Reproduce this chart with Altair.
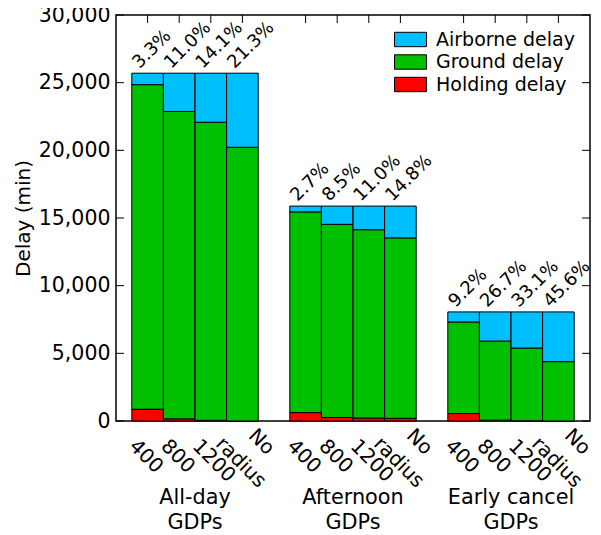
import altair as alt
import pandas as pd

# ---- data ----
groups = ["All-day\nGDPs", "Afternoon\nGDPs", "Early cancel\nGDPs"]
radii = ["400", "800", "1200", "No\nradius"]
series = ["Airborne delay", "Ground delay", "Holding delay"]
colors = ["#00BFFF", "#00C000", "#FF0000"]

holding = [870, 160, 50, 0,
           620, 260, 220, 200,
           550, 60, 20, 0]
ground = [23982, 22713, 22026, 20226,
          14831, 14270, 13913, 13330,
          6768, 5848, 5372, 4385]
airborne = [848, 2827, 3624, 5474,
            429, 1350, 1747, 2350,
            742, 2152, 2668, 3675]
pct_labels = ["3.3%", "11.0%", "14.1%", "21.3%",
              "2.7%", "8.5%", "11.0%", "14.8%",
              "9.2%", "26.7%", "33.1%", "45.6%"]
y_ticks = [0, 5000, 10000, 15000, 20000, 25000, 30000]

W, H = 474, 406
FONT = "DejaVu Sans"
R = 0.7071


def rot(sx, sy, angle_cw):
    """screen offset -> text-frame dx, dy for a text rotated by angle_cw (45 or -45)"""
    if angle_cw > 0:
        return R * (sx + sy), R * (-sx + sy)
    return R * (sx - sy), R * (sx + sy)


# ---- tables built from the arrays ----
seg_rows, bar_rows = [], []
for gi in range(len(groups)):
    for ri in range(len(radii)):
        k = gi * len(radii) + ri
        pos = gi * (len(radii) + 1) + ri
        h, g, a = holding[k], ground[k], airborne[k]
        for name, lo, hi in [("Holding delay", 0, h),
                             ("Ground delay", h, h + g),
                             ("Airborne delay", h + g, h + g + a)]:
            seg_rows.append({"series": name, "x0": pos - 0.5, "x1": pos + 0.5,
                             "y0": lo, "y1": hi})
        bar_rows.append({"pos": pos, "total": h + g + a, "pct": pct_labels[k],
                         "radius": radii[ri]})
seg = pd.DataFrame(seg_rows)
bars_df = pd.DataFrame(bar_rows)
grp_df = pd.DataFrame({"pos": [gi * (len(radii) + 1) + (len(radii) - 1) / 2
                               for gi in range(len(groups))],
                       "label": groups})
ytick_df = pd.DataFrame({"v": y_ticks})

xscale = alt.Scale(domain=[-1, 14], nice=False, zero=False)
yscale = alt.Scale(domain=[0, 30000], nice=False)

legend = alt.Legend(
    orient="none", legendX=285, legendY=15, title=None,
    symbolType="M-2,-0.9L2,-0.9L2,0.9L-2,0.9Z", symbolSize=256,
    symbolStrokeColor="black", symbolStrokeWidth=1, symbolOpacity=1,
    labelFont=FONT, labelFontSize=19, labelColor="black", labelOffset=16,
    rowPadding=2.5, padding=0,
)

bars = alt.Chart(seg).mark_bar(stroke="black", strokeWidth=1, opacity=1).encode(
    x=alt.X("x0:Q", scale=xscale, axis=None),
    x2="x1:Q",
    y=alt.Y("y0:Q", scale=yscale,
            axis=alt.Axis(values=y_ticks, format=",.0f", ticks=False, domain=False,
                          grid=False, labelFont=FONT, labelFontSize=20.5,
                          labelColor="black", labelPadding=6,
                          title="Delay (min)", titleFont=FONT, titleFontSize=20,
                          titleFontWeight="normal", titleColor="black",
                          titlePadding=5)),
    y2="y1:Q",
    color=alt.Color("series:N", scale=alt.Scale(domain=series, range=colors),
                    legend=legend),
)

pdx, pdy = rot(-8, -4, -45)
pct = alt.Chart(bars_df).mark_text(
    angle=315, align="left", baseline="alphabetic", font=FONT, fontSize=18,
    color="black", dx=pdx, dy=pdy,
).encode(x=alt.X("pos:Q", scale=xscale), y=alt.Y("total:Q", scale=yscale),
         text="pct:N")

sdx, sdy = rot(-8, 0, 45)
single = alt.Chart(bars_df[~bars_df["radius"].str.contains("\n")]).mark_text(
    angle=45, align="left", baseline="top", font=FONT, fontSize=20,
    color="black", dx=sdx, dy=sdy,
).encode(x=alt.X("pos:Q", scale=xscale), y=alt.value(H + 15), text="radius:N")

mdx, mdy = rot(26, 1, 45)
multi = alt.Chart(bars_df[bars_df["radius"].str.contains("\n")]).mark_text(
    angle=45, align="center", baseline="top", font=FONT, fontSize=20,
    color="black", dx=mdx, dy=mdy, lineBreak="\n", lineHeight=29,
).encode(x=alt.X("pos:Q", scale=xscale), y=alt.value(H + 13), text="radius:N")

glab = alt.Chart(grp_df).mark_text(
    align="center", baseline="top", font=FONT, fontSize=20.8, color="black",
    lineBreak="\n", lineHeight=25,
).encode(x=alt.X("pos:Q", scale=xscale), y=alt.value(H + 67), text="label:N")

tick_l = alt.Chart(ytick_df).mark_rule(color="black", strokeWidth=1).encode(
    y=alt.Y("v:Q", scale=yscale), x=alt.value(0), x2=alt.value(8))
tick_r = alt.Chart(ytick_df).mark_rule(color="black", strokeWidth=1).encode(
    y=alt.Y("v:Q", scale=yscale), x=alt.value(W - 8), x2=alt.value(W))
tick_t = alt.Chart(bars_df).mark_rule(color="black", strokeWidth=1).encode(
    x=alt.X("pos:Q", scale=xscale), y=alt.value(0), y2=alt.value(8))

chart = alt.layer(bars, pct, single, multi, glab, tick_l, tick_r, tick_t).properties(
    width=W, height=H,
    autosize=alt.AutoSizeParams(type="none"),
    padding={"left": 108, "top": 7, "right": 3, "bottom": 112},
).configure_view(stroke="black", strokeWidth=1.5)

chart.save("out.html", embed_options={"renderer": "svg", "actions": False})
